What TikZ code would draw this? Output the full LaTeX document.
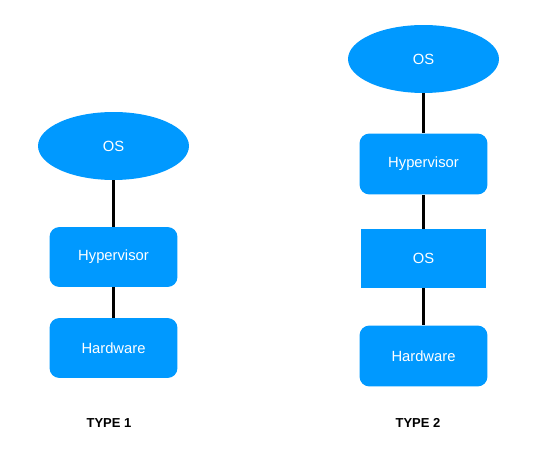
\documentclass[tikz,border=0pt]{standalone}
\usepackage{fontspec}
\setmainfont{Liberation Sans}
\usepackage{xcolor}
\usetikzlibrary{shapes.geometric}
\definecolor{vmblue}{RGB}{0,153,255}
\tikzset{
  osellipse/.style={
    ellipse, fill=vmblue, text=white, inner sep=0pt,
    minimum width=3.02cm, minimum height=1.36cm,
    font=\fontsize{8.4}{10}\selectfont
  },
  layerbox/.style={
    rectangle, rounded corners=0.2cm, fill=vmblue, text=white,
    inner sep=0pt, minimum width=2.56cm, minimum height=1.2cm,
    font=\fontsize{8.4}{10}\selectfont
  },
  osbox/.style={
    layerbox, sharp corners, minimum width=2.5cm, minimum height=1.18cm
  },
  linkline/.style={line width=1.7pt, black},
  typelabel/.style={font=\bfseries\fontsize{7.4}{9}\selectfont},
}

\begin{document}
\begin{tikzpicture}[x=0.02cm, y=-0.02cm]
  \useasboundingbox (0,0) rectangle (534,455);

  % --- Type 1 ---
  \node[osellipse] (os1) at (113.5,146) {OS};
  \node[layerbox] (hyp1) at (113.5,257) {Hypervisor};
  \node[layerbox] (hw1) at (113.5,348) {Hardware};
  \node[typelabel] (type1) at (109,423) {TYPE 1};

  \draw[linkline] (os1.south) -- (hyp1.north);
  \draw[linkline] (hyp1.south) -- (hw1.north);

  % --- Type 2 ---
  \node[osellipse] (os2) at (423.5,59) {OS};
  \node[layerbox, minimum height=1.22cm] (hyp2) at (423.5,164) {Hypervisor};
  \node[osbox] (guest2) at (423.5,258.5) {OS};
  \node[layerbox, minimum height=1.22cm] (hw2) at (423.5,356) {Hardware};
  \node[typelabel] (type2) at (418,423) {TYPE 2};

  \draw[linkline] (os2.south) -- (hyp2.north);
  \draw[linkline] (hyp2.south) -- (guest2.north);
  \draw[linkline] (guest2.south) -- (hw2.north);
\end{tikzpicture}
\end{document}
